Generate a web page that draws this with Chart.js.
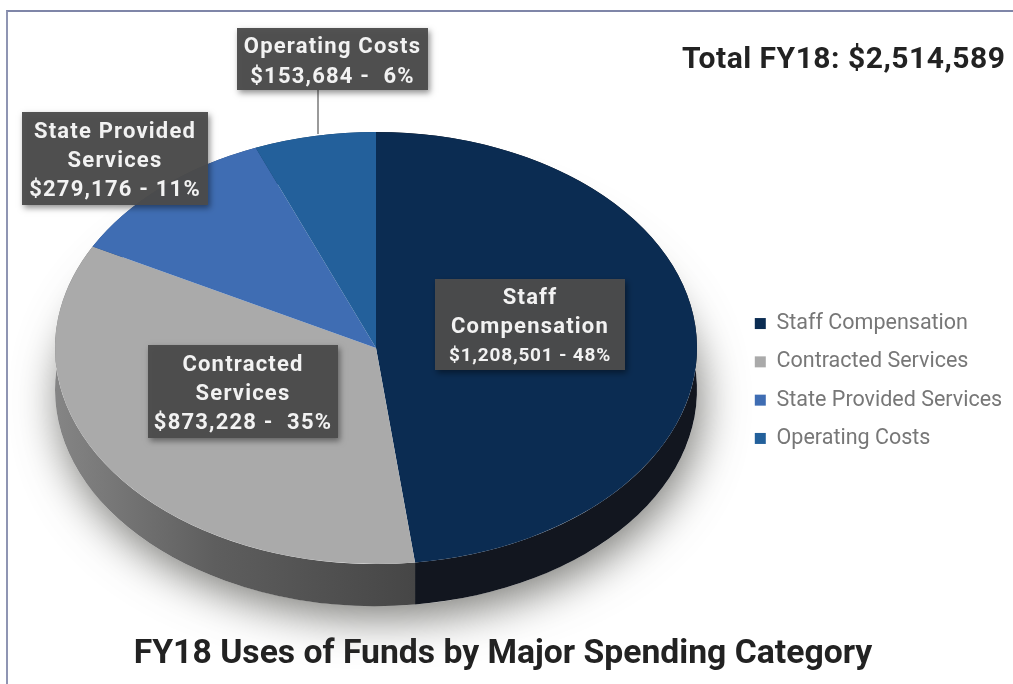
<!DOCTYPE html>
<html>
<head>
<meta charset="utf-8">
<style>
html, body { margin: 0; padding: 0; background: #fff; overflow: hidden; }
#frame { position: absolute; left: 6px; top: 10px; width: 1007px; height: 674px; border-left: 2px solid #8f95b3; border-top: 2px solid #7f86a8; box-sizing: border-box; }
canvas { position: absolute; left: 0; top: 0; filter: blur(0.6px); }
</style>
</head>
<body>
<div id="frame"></div>
<canvas id="pie_chart" width="1013" height="684"></canvas>
<script src="https://cdn.jsdelivr.net/npm/chart.js@4"></script>
<script>
//values
var categories = ["Staff Compensation", "Contracted Services", "State Provided Services", "Operating Costs"];
var values = [1208501, 873228, 279176, 153684];
var colors = ["#0b2c52", "#aaaaaa", "#3f6db3", "#23609b"];
var sideColors = ["#12161f", "#464646", "#2a4a7a", "#183f66"];
var totalText = "Total FY18: $2,514,589";
var titleText = "FY18 Uses of Funds by Major Spending Category";

//callout text, one array of lines for each slice
var staffLines = ["Staff", "Compensation", "$1,208,501 - 48%"];
var contractedLines = ["Contracted", "Services", "$873,228 -  35%"];
var stateLines = ["State Provided", "Services", "$279,176 - 11%"];
var operatingLines = ["Operating Costs", "$153,684 -  6%"];

//where the pie goes on the page, it gets squashed to look tilted
var centerX = 376;
var centerY = 348;
var radius = 321;
var squash = 0.673;
var depth = 42;

function drawCallout(ctx, x, y, w, h, lines, lineHeight, firstLine, smallLast)
{
	ctx.save();
	ctx.shadowColor = "rgba(0,0,0,0.45)";
	ctx.shadowBlur = 6;
	ctx.shadowOffsetX = 2;
	ctx.shadowOffsetY = 3;
	ctx.fillStyle = "rgba(76,76,76,0.96)";
	ctx.fillRect(x, y, w, h);
	ctx.restore();

	ctx.save();
	ctx.fillStyle = "#f2f2f2";
	ctx.textAlign = "center";
	ctx.textBaseline = "middle";
	lines.forEach(function(line, i) {
		//the last line of the staff box is set smaller
		if (smallLast && i == lines.length - 1) {
			ctx.font = "bold 19px Roboto";
			ctx.letterSpacing = "0.8px";
		} else {
			ctx.font = "bold 22px Roboto";
			ctx.letterSpacing = "1.2px";
		}
		ctx.fillText(line, x + w / 2, y + firstLine + i * lineHeight);
	});
	ctx.restore();
}

var tiltPlugin = {
	id: "tilt",
	afterLayout: function(chart) {
		//the legend sits beside the pie, not against the chart area
		chart.legend.left = 738;
		chart.legend.right = 1013;
		chart.legend.top = 296;
		//the title is centred on the whole frame
		chart.titleBlock.left = 0;
		chart.titleBlock.right = 1006;
		chart.titleBlock.top += 6;
		chart.titleBlock.bottom += 6;
	},
	beforeDatasetsDraw: function(chart) {
		var ctx = chart.ctx;
		var arcs = chart.getDatasetMeta(0).data;
		var rx = arcs[0].outerRadius;
		var ry = rx * squash;

		//soft shadow under the pie
		ctx.save();
		ctx.shadowColor = "rgba(80,80,75,0.75)";
		ctx.shadowBlur = 44;
		ctx.shadowOffsetX = 4;
		ctx.shadowOffsetY = 12;
		ctx.fillStyle = "#ffffff";
		ctx.beginPath();
		ctx.ellipse(centerX, centerY + depth, rx, ry, 0, 0, Math.PI * 2);
		ctx.fill();
		ctx.restore();

		//side wall of every slice, using the angles the library worked out
		arcs.forEach(function(arc, i) {
			var gradient = ctx.createLinearGradient(centerX - rx, 0, centerX + rx, 0);
			gradient.addColorStop(0, i == 1 ? "#858585" : sideColors[i]);
			gradient.addColorStop(0.25, i == 1 ? "#5e5e5e" : sideColors[i]);
			gradient.addColorStop(0.56, sideColors[i]);
			gradient.addColorStop(1, sideColors[i]);
			ctx.fillStyle = gradient;
			ctx.beginPath();
			ctx.ellipse(centerX, centerY, rx, ry, 0, arc.startAngle, arc.endAngle);
			ctx.ellipse(centerX, centerY + depth, rx, ry, 0, arc.endAngle, arc.startAngle, true);
			ctx.closePath();
			ctx.fill();
		});

		ctx.save();
		ctx.translate(centerX, centerY);
		ctx.scale(1, squash);
		ctx.translate(-arcs[0].x, -arcs[0].y);
	},
	afterDatasetsDraw: function(chart) {
		chart.ctx.restore();
	},
	afterDraw: function(chart) {
		var ctx = chart.ctx;

		//leader line of the operating costs box
		ctx.strokeStyle = "#9a9a9a";
		ctx.lineWidth = 2;
		ctx.beginPath();
		ctx.moveTo(318, 90);
		ctx.lineTo(318, 134);
		ctx.stroke();

		drawCallout(ctx, 237, 28, 191, 62, operatingLines, 30, 19);
		drawCallout(ctx, 22, 112, 186, 93, stateLines, 29, 20);
		drawCallout(ctx, 148, 345, 190, 93, contractedLines, 29, 20);
		drawCallout(ctx, 435, 279, 190, 91, staffLines, 29, 19, true);

		ctx.fillStyle = "#222222";
		ctx.font = "bold 30px Roboto";
		ctx.letterSpacing = "0.5px";
		ctx.textAlign = "left";
		ctx.textBaseline = "middle";
		ctx.fillText(totalText, 682, 60);
		ctx.letterSpacing = "0px";
	}
};

var pieChart = new Chart(document.getElementById("pie_chart"), {
	type: "pie",
	data: {
		labels: categories,
		datasets: [{
			data: values,
			backgroundColor: colors,
			borderWidth: 0,
			clip: false
		}]
	},
	options: {
		responsive: false,
		animation: false,
		radius: radius,
		layout: { padding: { left: 55, right: 20, top: 2, bottom: 15 } },
		plugins: {
			tooltip: { enabled: false },
			title: {
				display: true,
				position: "bottom",
				text: titleText,
				color: "#222222",
				padding: 0,
				font: { family: "Roboto", size: 33.7, weight: "bold" }
			},
			legend: {
				position: "right",
				align: "start",
				labels: {
					boxWidth: 11,
					boxHeight: 11,
					padding: 16.8,
					color: "#777777",
					font: { family: "Roboto", size: 21.5 }
				}
			}
		}
	},
	plugins: [tiltPlugin]
});
</script>
</body>
</html>
